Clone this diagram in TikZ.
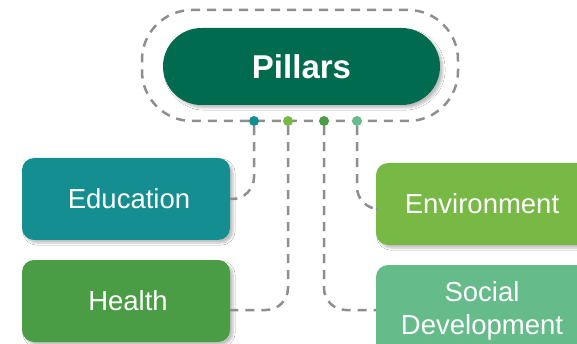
\documentclass[tikz,border=0pt]{standalone}
\usepackage{fontspec}
\setmainfont{Liberation Sans}
\usetikzlibrary{shadows.blur}
\definecolor{pill}{HTML}{006B4F}
\definecolor{tealc}{HTML}{158E92}
\definecolor{lgreen}{HTML}{78B945}
\definecolor{mgreen}{HTML}{4A9D45}
\definecolor{mint}{HTML}{66BB8B}
\definecolor{dashgray}{HTML}{8E8E8E}
\begin{document}
\begin{tikzpicture}[x=1pt,y=-1pt,
  shad/.style={blur shadow={shadow xshift=3pt,shadow yshift=-3pt,shadow opacity=25,shadow blur steps=6}},
  box/.style={rectangle, rounded corners=12pt, minimum height=82pt, text=white,
    font=\fontsize{27.5}{33}\selectfont, align=center, inner sep=0pt, shad},
  dashline/.style={draw=dashgray, line width=2.5pt, dash pattern=on 9pt off 7pt},
  conn/.style={dashline, rounded corners=22pt},
  dotc/.style={circle, inner sep=0pt, minimum size=10pt}]
\clip (0,0) rectangle (577,344);
\fill[white] (0,0) rectangle (577,344);
\node[dashline, rounded corners=50pt, minimum width=316pt, minimum height=111pt] (frame) at (300,65.5) {};
\node[fill=pill, rounded corners=38.5pt, minimum width=277pt, minimum height=77pt, inner sep=0pt,
  text=white, font=\bfseries\fontsize{33}{40}\selectfont, shad] (pillars) at (301.5,66.5) {Pillars};
\node[box, fill=tealc, minimum width=208pt] (edu) at (126,199) {\hspace{6pt}Education};
\node[box, fill=mgreen, minimum width=208pt] (health) at (126,301) {\hspace{4pt}Health};
\node[box, fill=lgreen, minimum width=212pt] (env) at (482,204) {Environment};
\node[box, fill=mint, minimum width=212pt, minimum height=92pt] (soc) at (482,311) {Social\\Development};
\node[dotc, fill=tealc] (d1) at (254,121) {};
\node[dotc, fill=lgreen] (d2) at (288,121) {};
\node[dotc, fill=mgreen] (d3) at (324,121) {};
\node[dotc, fill=mint] (d4) at (357,121) {};
\draw[conn] (d1.south) |- (edu.east);
\draw[conn] (d2.south) |- ([yshift=-9pt]health.east);
\draw[conn] (d3.south) |- ([yshift=1pt]soc.west);
\draw[conn] (d4.south) |- ([yshift=-5pt]env.west);
\end{tikzpicture}
\end{document}
